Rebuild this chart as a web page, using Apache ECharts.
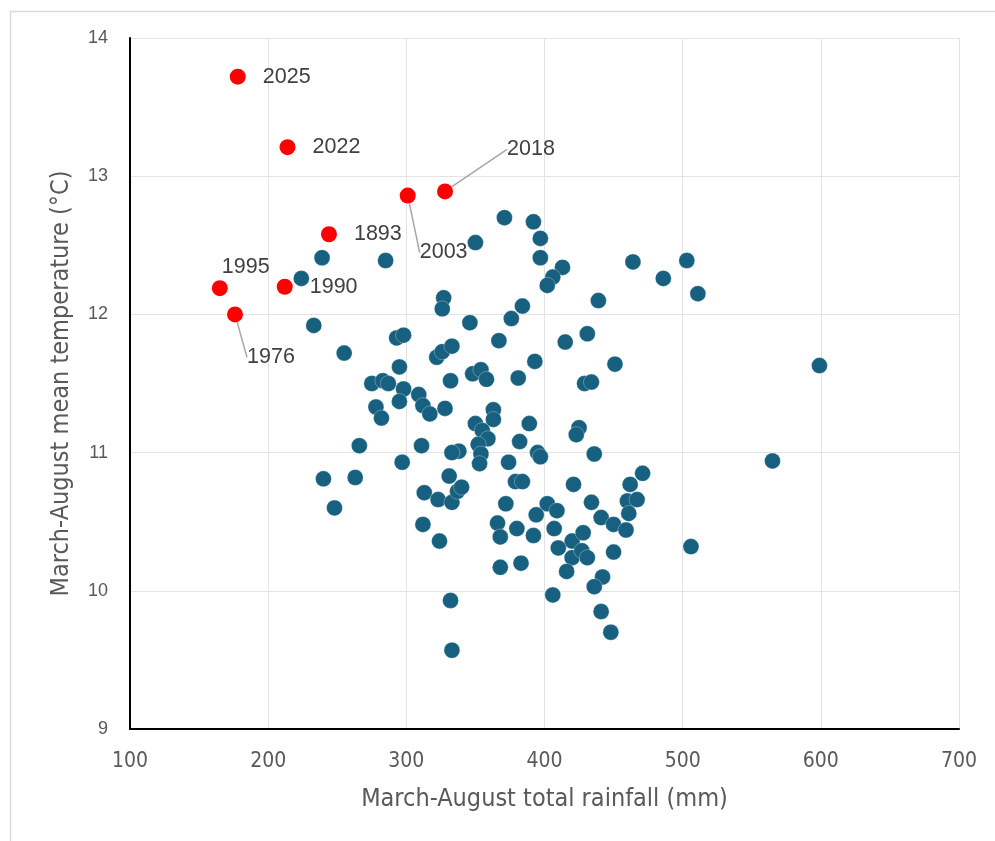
<!DOCTYPE html>
<html>
<head>
<meta charset="utf-8">
<script src="https://cdn.jsdelivr.net/npm/echarts@6/dist/echarts.min.js"></script>
<style>
html,body{margin:0;padding:0;background:#fff;}
#chart{width:995px;height:841px;}
</style>
</head>
<body>
<div id="chart"></div>
<script>
// ---- data ----
const xTicks = [100, 200, 300, 400, 500, 600, 700];
const yTicks = [9, 10, 11, 12, 13, 14];

const blueRain = [239,285,224,233,255,293,298,295,275,283,287,298,295,278,282,309,312,317,332,328,
  322,326,333,327,326,346,350,371,392,397,397,413,406,402,464,503,486,511,439,384,
  376,367,415,431,393,451,348,354,358,381,429,434,363,363,350,355,359,389,382,425,
  423,352,354,353,338,333,374,395,397,436,311,266,297,263,240,248,331,313,323,333,
  337,340,379,384,421,462,471,372,402,409,394,434,441,460,467,461,450,459,312,324,
  366,368,380,392,407,420,428,410,420,427,431,450,416,368,383,442,436,406,332,441,
  448,333,506,565,599];
const blueTemp = [12.41,12.39,12.26,11.92,11.72,11.83,11.85,11.62,11.50,11.52,11.50,11.46,11.37,11.33,11.25,11.42,11.34,11.28,11.52,11.32,
  11.69,11.73,11.77,12.12,12.04,11.94,12.52,12.70,12.67,12.55,12.41,12.34,12.27,12.21,12.38,12.39,12.26,12.15,12.10,12.06,
  11.97,11.81,11.80,11.86,11.66,11.64,11.57,11.60,11.53,11.54,11.50,11.51,11.31,11.24,11.21,11.16,11.10,11.21,11.08,11.18,
  11.13,11.06,10.99,10.92,11.01,11.00,10.93,11.00,10.97,10.99,11.05,11.05,10.93,10.82,10.81,10.60,10.83,10.71,10.66,10.64,
  10.72,10.75,10.79,10.79,10.77,10.77,10.85,10.63,10.63,10.58,10.55,10.64,10.53,10.65,10.66,10.56,10.48,10.44,10.48,10.36,
  10.49,10.39,10.45,10.40,10.45,10.36,10.42,10.31,10.24,10.29,10.24,10.28,10.14,10.17,10.20,10.10,10.03,9.97,9.93,9.85,
  9.70,9.57,10.32,10.94,11.63];

const redYears = ['2025','2022','1893','1995','1990','2018','2003','1976'];
const redRain  = [178, 214, 244, 165, 212, 328, 301, 176];
const redTemp  = [13.72, 13.21, 12.58, 12.19, 12.20, 12.89, 12.86, 12.00];
const leaderYears = ['2018','2003','1976'];

// ---- styling (label offsets in pixels) ----
const labelOffsets = {
  '2025':[0,0],'2022':[0,0],'1893':[0,0],'1990':[0,0],'1995':[-23,-21],
  '2018':[37,-42],'2003':[-13,57],'1976':[-13,43]
};

const blueData = blueRain.map((r,i)=>[r, blueTemp[i]]);
const plainRed = [], leaderRed = [];
redYears.forEach((y,i)=>{
  const item = {value:[redRain[i], redTemp[i]], name:y};
  if (leaderYears.includes(y)) leaderRed.push(item); else plainRed.push(item);
});

const textColor = '#595959';
const narrow = 'Liberation Sans Narrow, DejaVu Sans Condensed, Roboto, sans-serif';
const labelStyle = {
  show:true, position:'right', distance:17, formatter:'{b}',
  color:'#404040', fontSize:21.5, fontFamily:'Liberation Sans, Arial, sans-serif'
};
function layoutFn(arr){
  return function(p){
    const nm = arr[p.dataIndex].name;
    const o = labelOffsets[nm] || [0,0];
    return {dx:o[0], dy:o[1]};
  };
}

const chart = echarts.init(document.getElementById('chart'), null, {renderer:'canvas'});
chart.setOption({
  animation:false,
  backgroundColor:'#ffffff',
  graphic:[{
    type:'rect', left:8, top:9, shape:{x:0,y:0,width:1000,height:900},
    style:{fill:'none', stroke:'#d9d9d9', lineWidth:1.5}, silent:true, z:-10
  }],
  grid:{left:130, right:36, top:38, bottom:112, containLabel:false},
  xAxis:{
    type:'value', min:xTicks[0], max:xTicks[xTicks.length-1], interval:100,
    name:'March-August total rainfall (mm)', nameLocation:'middle', nameGap:58,
    nameTextStyle:{color:textColor, fontSize:25, fontFamily:narrow},
    axisLine:{show:true, onZero:false, lineStyle:{color:'#000000', width:2}},
    axisTick:{show:false},
    axisLabel:{color:textColor, fontSize:21, margin:22, fontFamily:narrow},
    splitLine:{show:true, lineStyle:{color:'#e3e3e3', width:1}}
  },
  yAxis:{
    type:'value', min:yTicks[0], max:yTicks[yTicks.length-1], interval:1,
    name:'March-August mean temperature (°C)', nameLocation:'middle', nameGap:56,
    nameTextStyle:{color:textColor, fontSize:25, fontFamily:narrow},
    axisLine:{show:true, onZero:false, lineStyle:{color:'#000000', width:2}},
    axisTick:{show:false},
    axisLabel:{color:textColor, fontSize:18, margin:22, fontFamily:'Liberation Sans, Arial, sans-serif'},
    splitLine:{show:true, lineStyle:{color:'#e3e3e3', width:1}}
  },
  series:[
    {
      type:'scatter', name:'Other years', data:blueData, symbolSize:16,
      itemStyle:{color:'#17607f', opacity:1, borderColor:'rgba(255,255,255,0.5)', borderWidth:0.6}, z:2
    },
    {
      type:'scatter', name:'Highlighted', data:plainRed, symbolSize:16,
      itemStyle:{color:'#ff0000', opacity:1}, z:3,
      label:labelStyle,
      labelLayout:layoutFn(plainRed)
    },
    {
      type:'scatter', name:'Highlighted (leader)', data:leaderRed, symbolSize:16,
      itemStyle:{color:'#ff0000', opacity:1}, z:3,
      label:labelStyle,
      labelLine:{show:true, lineStyle:{color:'#a6a6a6', width:1.5}},
      labelLayout:layoutFn(leaderRed)
    }
  ]
});
</script>
</body>
</html>
